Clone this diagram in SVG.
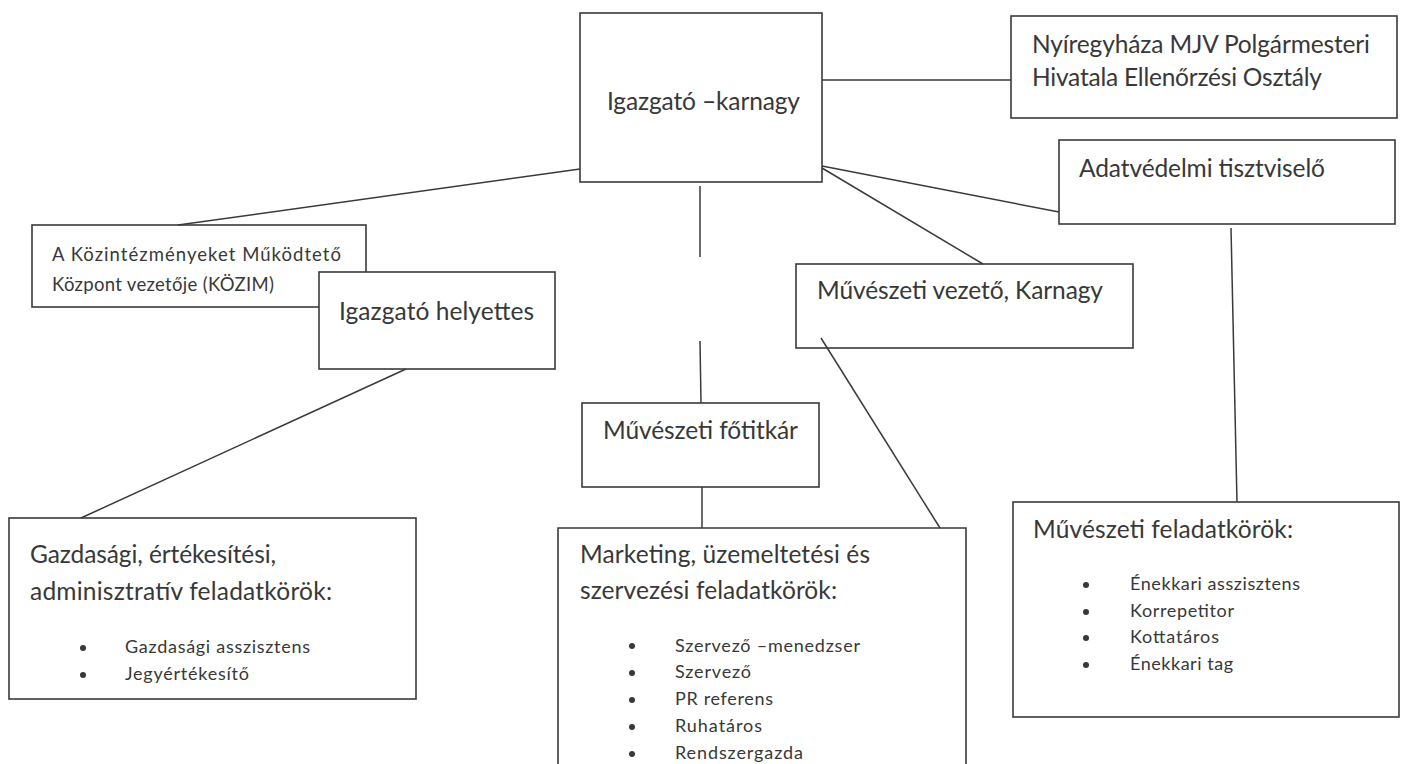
<svg xmlns="http://www.w3.org/2000/svg" width="1411" height="764" viewBox="0 0 1411 764">
<style>
.box{fill:#fff;stroke:#3a3a3a;stroke-width:1.6}
.t{font-family:Lato,"Open Sans","Liberation Sans",sans-serif;fill:#383838}
.big{font-size:24.5px}
.mid{font-size:18.5px}
.sm{font-size:18px}
.c line{stroke:#3a3a3a;stroke-width:1.5}
.dot{fill:#383838}
</style>
<rect width="1411" height="764" fill="#fff"/>
<g id="n-igazgato">
<rect class="box" x="580" y="13" width="242" height="169"/>
<text class="t big" x="607" y="110" textLength="193">Igazgató –karnagy</text>
</g>
<g id="n-hivatal">
<rect class="box" x="1011" y="16" width="386" height="102"/>
<text class="t big" x="1032" y="53" textLength="338">Nyíregyháza MJV Polgármesteri</text>
<text class="t big" x="1032" y="86" textLength="290">Hivatala Ellenőrzési Osztály</text>
</g>
<g id="n-adatvedelmi">
<rect class="box" x="1059" y="140" width="336" height="84"/>
<text class="t big" x="1079" y="177" textLength="246">Adatvédelmi tisztviselő</text>
</g>
<g id="n-kozim">
<rect class="box" x="32" y="225" width="334" height="82"/>
<text class="t mid" x="52" y="261" textLength="289">A  Közintézményeket  Működtető</text>
<text class="t mid" x="52" y="291" textLength="222">Központ vezetője (KÖZIM)</text>
</g>
<g id="n-helyettes">
<rect class="box" x="319" y="272" width="236" height="97"/>
<text class="t big" x="339" y="320" textLength="195">Igazgató helyettes</text>
</g>
<g id="n-muveszeti-vezeto">
<rect class="box" x="796" y="264" width="337" height="84"/>
<text class="t big" x="817" y="299" textLength="286">Művészeti vezető, Karnagy</text>
</g>
<g id="n-fotitkar">
<rect class="box" x="582" y="403" width="237" height="84"/>
<text class="t big" x="603" y="439" textLength="195">Művészeti főtitkár</text>
</g>
<g id="n-gazdasagi">
<rect class="box" x="9" y="518" width="407" height="181"/>
<text class="t big" x="30" y="563" textLength="246">Gazdasági, értékesítési,</text>
<text class="t big" x="30" y="600" textLength="302">adminisztratív feladatkörök:</text>
<circle class="dot" cx="83" cy="648" r="3"/>
<text class="t sm" x="125" y="653" textLength="185">Gazdasági asszisztens</text>
<circle class="dot" cx="83" cy="675" r="3"/>
<text class="t sm" x="125" y="680" textLength="124">Jegyértékesítő</text>
</g>
<g id="n-marketing">
<path class="box" d="M558,768 L558,528 L966,528 L966,768"/>
<text class="t big" x="580" y="563" textLength="290">Marketing, üzemeltetési és</text>
<text class="t big" x="580" y="599" textLength="257">szervezési feladatkörök:</text>
<circle class="dot" cx="632" cy="646" r="3"/>
<text class="t sm" x="675" y="652" textLength="185">Szervező –menedzser</text>
<circle class="dot" cx="632" cy="673" r="3"/>
<text class="t sm" x="675" y="678" textLength="76">Szervező</text>
<circle class="dot" cx="632" cy="700" r="3"/>
<text class="t sm" x="675" y="705" textLength="98">PR referens</text>
<circle class="dot" cx="632" cy="727" r="3"/>
<text class="t sm" x="675" y="732" textLength="87">Ruhatáros</text>
<circle class="dot" cx="632" cy="754" r="3"/>
<text class="t sm" x="675" y="759" textLength="128">Rendszergazda</text>
</g>
<g id="n-muveszeti-feladat">
<rect class="box" x="1013" y="502" width="386" height="215"/>
<text class="t big" x="1033" y="538" textLength="260">Művészeti feladatkörök:</text>
<circle class="dot" cx="1086" cy="585" r="3"/>
<text class="t sm" x="1130" y="590" textLength="170">Énekkari asszisztens</text>
<circle class="dot" cx="1086" cy="612" r="3"/>
<text class="t sm" x="1130" y="617" textLength="104">Korrepetitor</text>
<circle class="dot" cx="1086" cy="638" r="3"/>
<text class="t sm" x="1130" y="643" textLength="89">Kottatáros</text>
<circle class="dot" cx="1086" cy="665" r="3"/>
<text class="t sm" x="1130" y="670" textLength="103">Énekkari tag</text>
</g>
<g id="connectors" class="c">
<line x1="822" y1="80" x2="1011" y2="80"/>
<line x1="580" y1="169" x2="178" y2="225"/>
<line x1="822" y1="166" x2="1059" y2="212"/>
<line x1="822" y1="168" x2="983" y2="264"/>
<line x1="700" y1="186" x2="700" y2="257"/>
<line x1="700" y1="341" x2="701" y2="403"/>
<line x1="406" y1="369" x2="81" y2="518"/>
<line x1="821" y1="338" x2="940" y2="528"/>
<line x1="1231" y1="228" x2="1237" y2="502"/>
<line x1="702" y1="487" x2="702" y2="528"/>
</g>
</svg>
